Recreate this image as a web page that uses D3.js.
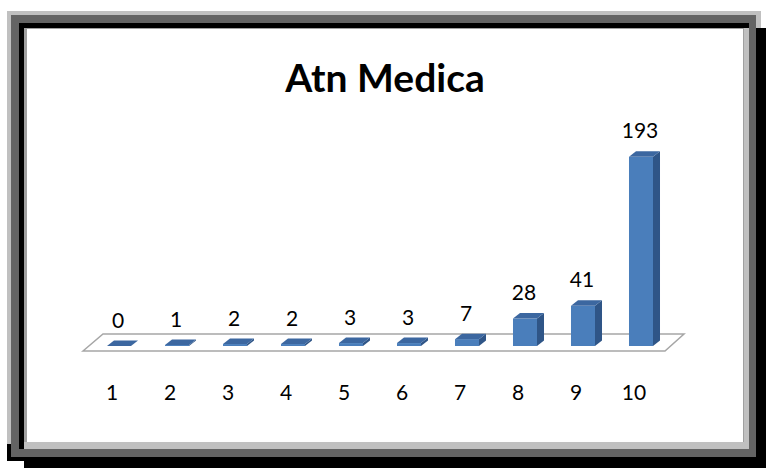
<!DOCTYPE html>
<html>
<head>
<meta charset="utf-8">
<script src="https://cdn.jsdelivr.net/npm/d3@7"></script>
<style>
  html, body { margin: 0; padding: 0; background: #fff; }
  svg { display: block; }
</style>
</head>
<body>
<div id="chart"></div>
<script>
// data
var categories = ["1", "2", "3", "4", "5", "6", "7", "8", "9", "10"]
var values = [0, 1, 2, 2, 3, 3, 7, 28, 41, 193]
var title = "Atn Medica"

var width = 766
height = 468

var svg = d3.select("#chart")
  .append("svg")
  .attr("width", width)
  .attr("height", height)

// framed border with drop shadow (layers, back to front)
var frame = [
  {x: 24, y: 28, w: 742, h: 440, c: "#000"},
  {x: 7, y: 20, w: 750, h: 441, c: "#000"},
  {x: 7, y: 11, w: 749, h: 433, c: "#c0c0c0"},
  {x: 756, y: 11, w: 5, h: 17, c: "#c0c0c0"},
  {x: 11, y: 15, w: 745, h: 442, c: "#646464"},
  {x: 19, y: 23, w: 730, h: 426, c: "#000"},
  {x: 24, y: 28, w: 725, h: 421, c: "#c0c0c0"},
  {x: 24, y: 28, w: 720, h: 414, c: "#a0a0a0"},
  {x: 27, y: 29, w: 716, h: 413, c: "#fff"}
]
svg.selectAll("rect.frame")
  .data(frame)
  .enter()
  .append("rect")
  .attr("class", "frame")
  .attr("x", function(d){ return d.x })
  .attr("y", function(d){ return d.y })
  .attr("width", function(d){ return d.w })
  .attr("height", function(d){ return d.h })
  .attr("fill", function(d){ return d.c })

// title
svg.append("text")
  .attr("x", 385)
  .attr("y", 92)
  .attr("text-anchor", "middle")
  .style("font-family", "Lato, 'Open Sans', sans-serif")
  .style("font-weight", "bold")
  .style("font-size", "39px")
  .attr("fill", "#000")
  .text(title)

// scales
var x = d3.scaleBand()
  .domain(categories)
  .range([90, 670])
  .paddingInner(0.586)
  .paddingOuter(0.293)

var y = d3.scaleLinear()
  .domain([0, 200])
  .range([346, 150])

var bw = x.bandwidth()
var dx = 7, dy = 5.5     // bar depth
var base = y(0)

// floor (perspective plane)
var r = x.range()
var floor = [[r[0] - 7, base + 5], [r[0] + 13, base - 12], [r[1] + 14, base - 12], [r[1] - 5, base + 5]]
svg.append("polygon")
  .attr("points", floor.map(function(p){ return p.join(",") }).join(" "))
  .attr("fill", "#fff")
  .attr("stroke", "#a6a6a6")
  .attr("stroke-width", 1.5)

var data = categories.map(function(c, i){ return {cat: c, value: values[i]} })

var bars = svg.selectAll("g.bar")
  .data(data)
  .enter()
  .append("g")
  .attr("class", "bar")

// side face
bars.append("polygon")
  .attr("fill", "#2f5587")
  .attr("points", function(d) {
    var x0 = x(d.cat) + bw, y0 = y(d.value)
    return [[x0, y0], [x0 + dx, y0 - dy], [x0 + dx, base - dy], [x0, base]].join(" ")
  })

// front face
bars.append("rect")
  .attr("fill", "#4a7ebb")
  .attr("x", function(d){ return x(d.cat) })
  .attr("y", function(d){ return y(d.value) })
  .attr("width", bw)
  .attr("height", function(d){ return base - y(d.value) })

// top face
bars.append("polygon")
  .attr("fill", "#3c67a0")
  .attr("points", function(d) {
    var x0 = x(d.cat), y0 = y(d.value)
    return [[x0, y0], [x0 + dx, y0 - dy], [x0 + bw + dx, y0 - dy], [x0 + bw, y0]].join(" ")
  })

// value labels
bars.append("text")
  .attr("x", function(d){ return x(d.cat) + bw / 2 - 1 })
  .attr("y", function(d){ return y(d.value) - dy - 13 })
  .attr("text-anchor", "middle")
  .style("font-family", "Lato, 'Open Sans', sans-serif")
  .style("font-size", "21px")
  .attr("fill", "#000")
  .text(function(d){ return d.value })

// category labels
svg.selectAll("text.cat")
  .data(categories)
  .enter()
  .append("text")
  .attr("class", "cat")
  .attr("x", function(d){ return x(d) + bw / 2 - 7 })
  .attr("y", 400)
  .attr("text-anchor", "middle")
  .style("font-family", "Lato, 'Open Sans', sans-serif")
  .style("font-size", "21px")
  .attr("fill", "#000")
  .text(function(d){ return d })
</script>
</body>
</html>
